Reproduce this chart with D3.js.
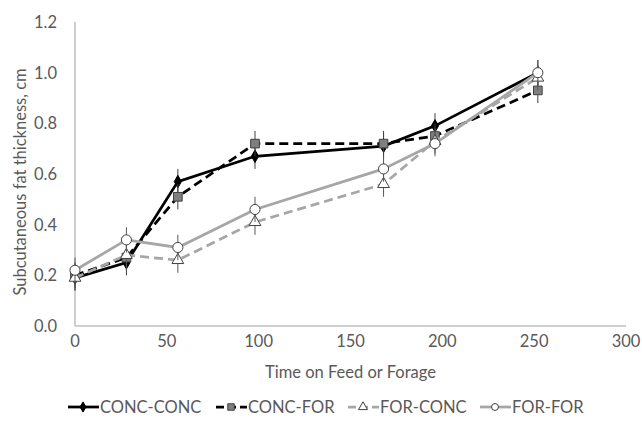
<!DOCTYPE html>
<html>
<head>
<meta charset="utf-8">
<script src="https://cdn.jsdelivr.net/npm/d3@7"></script>
<style>
  body { margin: 0; background: #fff; }
  text { font-family: Lato, "Open Sans", sans-serif; fill: #595959; font-size: 16.5px; }
</style>
</head>
<body>
<div id="chart"></div>
<script>
var days = [0, 28, 56, 98, 168, 196, 252];
var seriesNames = ["CONC-CONC", "CONC-FOR", "FOR-CONC", "FOR-FOR"];
var concConc = [0.19, 0.25, 0.57, 0.67, 0.71, 0.79, 1.00];
var concFor = [0.20, 0.27, 0.51, 0.72, 0.72, 0.75, 0.93];
var forConc = [0.19, 0.28, 0.26, 0.41, 0.56, 0.73, 0.98];
var forFor = [0.22, 0.34, 0.31, 0.46, 0.62, 0.72, 1.00];
var errConcConc = [0.05, 0.05, 0.05, 0.05, 0.05, 0.05, 0.05];
var errConcFor = [0.05, 0.05, 0.05, 0.05, 0.05, 0.05, 0.05];
var errForConc = [0.05, 0.05, 0.05, 0.05, 0.05, 0.05, 0.05];
var errForFor = [0.05, 0.05, 0.05, 0.05, 0.05, 0.05, 0.05];
var xTicks = [0, 50, 100, 150, 200, 250, 300];
var yTicks = [0, 0.2, 0.4, 0.6, 0.8, 1.0, 1.2];

var width = 642, height = 423;
var svg = d3.select('#chart').append('svg').attr('width', width).attr('height', height);

var x = d3.scaleLinear().domain([0, 300]).range([75, 626]);
var y = d3.scaleLinear().domain([0, 1.2]).range([326, 22]);

// axis lines, no gridlines
svg.append('line').attr('x1', x(0)).attr('x2', x(0)).attr('y1', y(1.2)).attr('y2', y(0))
  .attr('stroke', '#bfbfbf').attr('stroke-width', 1.5);
svg.append('line').attr('x1', x(0)).attr('x2', x(300)).attr('y1', y(0)).attr('y2', y(0))
  .attr('stroke', '#bfbfbf').attr('stroke-width', 1.5);

svg.selectAll('.ytick').data(yTicks).enter().append('text')
  .attr('x', 57).attr('y', function(d){ return y(d) + 6; })
  .attr('text-anchor', 'end')
  .text(function(d){ return d3.format('.1f')(d); });

svg.selectAll('.xtick').data(xTicks).enter().append('text')
  .attr('x', function(d){ return x(d); }).attr('y', 347)
  .attr('text-anchor', 'middle')
  .text(function(d){ return d; });

svg.append('text').attr('x', x(150)).attr('y', 378).attr('text-anchor', 'middle')
  .text('Time on Feed or Forage');

svg.append('text').attr('transform', 'translate(26,182) rotate(-90)')
  .attr('text-anchor', 'middle')
  .text('Subcutaneous fat thickness, cm');

var series = [
  {name: seriesNames[0], values: concConc, err: errConcConc, color: '#000', dash: null, marker: 'diamond', fill: '#000', mstroke: '#000', bar: '#404040'},
  {name: seriesNames[1], values: concFor, err: errConcFor, color: '#000', dash: '9,5', marker: 'square', fill: '#7f7f7f', mstroke: '#404040', bar: '#404040'},
  {name: seriesNames[2], values: forConc, err: errForConc, color: '#a6a6a6', dash: '9,5', marker: 'triangle', fill: '#fff', mstroke: '#404040', bar: '#595959'},
  {name: seriesNames[3], values: forFor, err: errForFor, color: '#a6a6a6', dash: null, marker: 'circle', fill: '#fff', mstroke: '#404040', bar: '#595959'}
];

var symbols = {
  diamond: d3.symbol().type(d3.symbolDiamond).size(45),
  square: d3.symbol().type(d3.symbolSquare).size(75),
  triangle: d3.symbol().type(d3.symbolTriangle).size(60),
  circle: d3.symbol().type(d3.symbolCircle).size(80)
};
var legendSymbols = {
  diamond: d3.symbol().type(d3.symbolDiamond).size(30),
  square: d3.symbol().type(d3.symbolSquare).size(42),
  triangle: d3.symbol().type(d3.symbolTriangle).size(35),
  circle: d3.symbol().type(d3.symbolCircle).size(38)
};

var line = d3.line().x(function(d){ return x(d[0]); }).y(function(d){ return y(d[1]); });

series.forEach(function(s){
  var pts = days.map(function(d, i){ return [d, s.values[i], s.err[i]]; });
  var g = svg.append('g');
  g.selectAll('line.err').data(pts).enter().append('line')
    .attr('x1', function(d){ return x(d[0]); }).attr('x2', function(d){ return x(d[0]); })
    .attr('y1', function(d){ return y(d[1] - d[2]); }).attr('y2', function(d){ return y(d[1] + d[2]); })
    .attr('stroke', s.bar).attr('stroke-width', 1);
  g.append('path').datum(pts).attr('d', line)
    .attr('fill', 'none').attr('stroke', s.color).attr('stroke-width', 2.75)
    .attr('stroke-dasharray', s.dash);
  g.selectAll('path.m').data(pts).enter().append('path')
    .attr('transform', function(d){ return 'translate(' + x(d[0]) + ',' + y(d[1]) + ')'; })
    .attr('d', symbols[s.marker]())
    .attr('fill', s.fill).attr('stroke', s.mstroke).attr('stroke-width', 1);
});

// legend
var legendX = [68, 216, 348, 480];
var legend = svg.selectAll('.leg').data(series).enter().append('g')
  .attr('transform', function(d, i){ return 'translate(' + legendX[i] + ',407)'; });
legend.append('line').attr('x1', 0).attr('x2', 31).attr('y1', 0).attr('y2', 0)
  .attr('stroke', function(d){ return d.color; }).attr('stroke-width', 2.75)
  .attr('stroke-dasharray', function(d){ return d.dash ? '8,4' : null; });
legend.append('path').attr('transform', 'translate(15,0)')
  .attr('d', function(d){ return legendSymbols[d.marker](); })
  .attr('fill', function(d){ return d.fill; }).attr('stroke', function(d){ return d.mstroke; });
legend.append('text').attr('x', 32).attr('y', 6)
  .text(function(d){ return d.name; });
</script>
</body>
</html>
